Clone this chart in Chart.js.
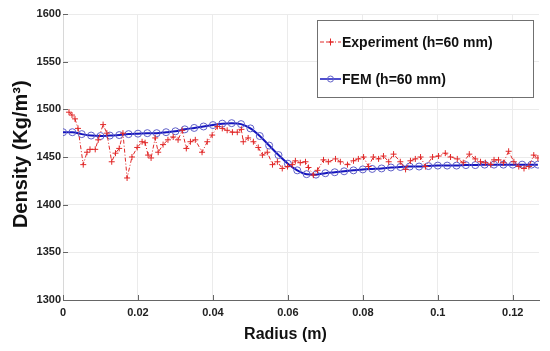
<!DOCTYPE html>
<html>
<head>
<meta charset="utf-8">
<script src="https://cdn.jsdelivr.net/npm/chart.js@4.4.0/dist/chart.umd.min.js"></script>
<style>
html,body{margin:0;padding:0;background:#fff;}
#wrap{width:550px;height:351px;}
</style>
</head>
<body>
<div id="wrap"><canvas id="c" width="550" height="351"></canvas></div>
<script>
const xTicks = [0, 0.02, 0.04, 0.06, 0.08, 0.1, 0.12];
const xTickLabels = ["0", "0.02", "0.04", "0.06", "0.08", "0.1", "0.12"];
const yTicks = [1300, 1350, 1400, 1450, 1500, 1550, 1600];
const yTickLabels = ["1300", "1350", "1400", "1450", "1500", "1550", "1600"];

const expX = [0.0016,0.0024,0.0032,0.004,0.0054,0.0064,0.0072,0.0086,0.0094,0.0107,
0.0117,0.013,0.014,0.015,0.016,0.0171,0.0184,0.0198,0.0211,0.0219,
0.0227,0.0235,0.0246,0.0254,0.0267,0.028,0.0294,0.0307,0.0318,0.0329,
0.034,0.0353,0.0371,0.0385,0.0398,0.0412,0.0425,0.0438,0.0452,0.0465,
0.0476,0.0481,0.0494,0.0508,0.0521,0.0532,0.0545,0.0559,0.0572,0.0585,
0.0599,0.0612,0.062,0.0633,0.0647,0.0655,0.0668,0.0679,0.0695,0.0708,
0.0727,0.074,0.0759,0.0775,0.0788,0.0802,0.0815,0.0828,0.0842,0.0855,
0.0869,0.0882,0.09,0.0914,0.0927,0.094,0.0954,0.0967,0.0986,0.1002,
0.102,0.1034,0.1052,0.1068,0.1084,0.11,0.1114,0.1127,0.1141,0.115,
0.1162,0.1175,0.1189,0.1203,0.1216,0.123,0.1243,0.1256,0.1267];
const expY = [1497,1494,1490,1480,1442,1455,1458,1458,1468,1484,
1475,1445,1454,1459,1475,1428,1450,1460,1466,1465,
1452,1449,1470,1455,1463,1468,1471,1468,1478,1459,
1466,1468,1455,1466,1473,1482,1480,1478,1476,1476,
1479,1466,1470,1466,1460,1452,1455,1442,1445,1438,
1440,1442,1446,1444,1445,1439,1431,1436,1447,1445,
1448,1445,1442,1446,1448,1450,1440,1450,1448,1451,
1445,1453,1445,1437,1446,1448,1450,1440,1450,1451,
1454,1450,1448,1444,1453,1448,1445,1444,1442,1447,
1447,1444,1456,1445,1440,1438,1440,1452,1449];

const femX = [0,0.0025,0.005,0.0075,0.01,0.0125,0.015,0.0175,0.02,0.0225,
0.025,0.0275,0.03,0.0325,0.035,0.0375,0.04,0.0425,0.045,0.0475,
0.05,0.0525,0.055,0.0575,0.06,0.0625,0.065,0.0675,0.07,0.0725,
0.075,0.0775,0.08,0.0825,0.085,0.0875,0.09,0.0925,0.095,0.0975,
0.1,0.1025,0.105,0.1075,0.11,0.1125,0.115,0.1175,0.12,0.1225,0.125,0.1267];
const femY = [1476,1476,1474,1472.5,1472,1472.5,1473,1474,1474.5,1475,
1475,1476,1477,1479,1480.5,1482,1483.5,1485,1485.5,1484.5,
1480,1472,1462,1452,1443,1436,1432,1431.5,1433,1434,
1435,1436,1437,1437.5,1438,1439,1439.5,1440,1440,1440.5,
1441,1441,1441,1441.5,1441.5,1442,1442,1442,1442,1442,1442,1442];

const seriesNames = ["Experiment (h=60 mm)", "FEM (h=60 mm)"];

const FONT = "'Liberation Sans', Arial, sans-serif";

const expData = expX.map((x, i) => ({x: x, y: expY[i]}));
const femData = femX.map((x, i) => ({x: x, y: femY[i]}));

const tickMarks = {
  id: 'tickMarks',
  afterDatasetsDraw(chart) {
    const ctx = chart.ctx, a = chart.chartArea;
    const xs = chart.scales.x, ys = chart.scales.y;
    ctx.save();
    ctx.strokeStyle = '#666';
    ctx.lineWidth = 1;
    ctx.beginPath();
    yTicks.forEach(v => {
      const y = Math.round(ys.getPixelForValue(v)) + 0.5;
      ctx.moveTo(a.left, y); ctx.lineTo(a.left + 5, y);
    });
    xTicks.forEach(v => {
      const x = Math.round(xs.getPixelForValue(v)) + 0.5;
      ctx.moveTo(x, a.bottom); ctx.lineTo(x, a.bottom - 5);
    });
    ctx.stroke();
    ctx.restore();
  }
};

const boxLegend = {
  id: 'boxLegend',
  afterDraw(chart) {
    const ctx = chart.ctx;
    const ds = chart.data.datasets;
    const bx = 317, by = 20, bw = 216, bh = 77;
    ctx.save();
    ctx.fillStyle = '#fff';
    ctx.fillRect(bx, by, bw, bh);
    ctx.strokeStyle = '#707070';
    ctx.lineWidth = 1;
    ctx.strokeRect(bx + 0.5, by + 0.5, bw, bh);
    const rows = [42, 79];
    ds.forEach((d, i) => {
      const y = rows[i];
      ctx.strokeStyle = d.borderColor;
      ctx.lineWidth = i === 0 ? 1 : 1.5;
      ctx.setLineDash(d.borderDash || []);
      ctx.beginPath(); ctx.moveTo(320, y); ctx.lineTo(341, y); ctx.stroke();
      ctx.setLineDash([]);
      ctx.strokeStyle = d.pointBorderColor;
      ctx.lineWidth = 1;
      ctx.beginPath();
      if (i === 0) {
        ctx.moveTo(327, y); ctx.lineTo(334, y);
        ctx.moveTo(330.5, y - 3.5); ctx.lineTo(330.5, y + 3.5);
      } else {
        ctx.arc(330.5, y, 3, 0, Math.PI * 2);
      }
      ctx.stroke();
      ctx.fillStyle = '#111';
      ctx.font = "bold 14px " + FONT;
      ctx.textBaseline = 'middle';
      ctx.textAlign = 'left';
      ctx.fillText(d.label, 342, y + 1);
    });
    ctx.restore();
  }
};

new Chart(document.getElementById('c'), {
  type: 'line',
  data: {
    datasets: [
      {
        label: seriesNames[0],
        data: expData,
        borderColor: 'rgb(225,40,40)',
        borderWidth: 1,
        borderDash: [4, 2, 1, 2],
        pointStyle: 'cross',
        pointRadius: 3,
        pointBorderWidth: 1,
        pointBorderColor: 'rgb(225,40,40)',
        tension: 0,
        fill: false
      },
      {
        label: seriesNames[1],
        data: femData,
        borderColor: 'rgb(20,20,190)',
        borderWidth: 2,
        pointStyle: 'circle',
        pointRadius: 3.5,
        pointBorderWidth: 1,
        pointBorderColor: 'rgb(95,95,200)',
        pointBackgroundColor: 'rgba(0,0,0,0)',
        cubicInterpolationMode: 'monotone',
        fill: false
      }
    ]
  },
  options: {
    responsive: false,
    animation: false,
    layout: { padding: { left: 0, right: 11, top: 14, bottom: 0 } },
    plugins: { legend: { display: false }, tooltip: { enabled: false } },
    scales: {
      x: {
        type: 'linear',
        min: 0,
        max: 0.127,
        afterBuildTicks(s) { s.ticks = xTicks.map(v => ({value: v})); },
        afterFit(s) { s.height = 51; },
        ticks: {
          callback: (v, i) => xTickLabels[i],
          font: { family: FONT, size: 11, weight: 'bold' },
          color: '#222',
          padding: 6,
          maxRotation: 0,
          autoSkip: false
        },
        grid: { color: '#ebebeb', drawTicks: false },
        border: { color: '#666', width: 1 },
        title: {
          display: true,
          text: 'Radius (m)       ',
          font: { family: FONT, size: 16, weight: 'bold' },
          color: '#111',
          padding: { top: 0, bottom: 7 }
        }
      },
      y: {
        type: 'linear',
        min: 1300,
        max: 1600,
        afterBuildTicks(s) { s.ticks = yTicks.map(v => ({value: v})); },
        afterFit(s) { s.width = 63; },
        ticks: {
          callback: (v, i) => yTickLabels[i],
          font: { family: FONT, size: 11, weight: 'bold' },
          color: '#222',
          padding: 2
        },
        grid: { color: '#ebebeb', drawTicks: false },
        border: { color: '#d8d8d8', width: 1 },
        title: {
          display: true,
          text: ' Density (Kg/m³)',
          font: { family: FONT, size: 20, weight: 'bold' },
          color: '#111',
          padding: { top: 9, bottom: 0 }
        }
      }
    }
  },
  plugins: [tickMarks, boxLegend]
});
</script>
</body>
</html>
